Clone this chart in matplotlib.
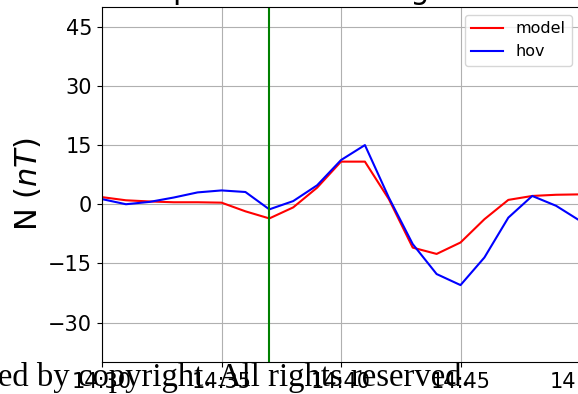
import pandas as pd
import matplotlib
matplotlib.use("Agg")
import matplotlib.pyplot as plt
import matplotlib.dates as mdates

# one-minute samples of the N component, 14:30 - 14:50
times = ["14:30", "14:31", "14:32", "14:33", "14:34", "14:35", "14:36",
         "14:37", "14:38", "14:39", "14:40", "14:41", "14:42", "14:43",
         "14:44", "14:45", "14:46", "14:47", "14:48", "14:49", "14:50"]
model = [1.8, 1.0, 0.7, 0.5, 0.5, 0.4, -1.8, -3.6, -0.8, 4.2, 10.8,
         10.8, 1.3, -11.0, -12.6, -9.7, -3.8, 1.1, 2.1, 2.4, 2.5]
hov = [1.3, 0.0, 0.6, 1.7, 3.0, 3.5, 3.1, -1.3, 0.8, 4.8, 11.2,
       15.0, 1.7, -10.1, -17.7, -20.5, -13.5, -3.4, 2.1, -0.4, -4.2]
event_time = "14:37"
yticks = [-30, -15, 0, 15, 30, 45]

day = "2015-03-17 "
t = pd.to_datetime([day + s for s in times])
t_event = pd.to_datetime(day + event_time)

fig = plt.figure(figsize=(5.78, 3.94), dpi=100)
ax = fig.add_axes([0.1765, 0.0812, 0.827, 0.901])

ax.plot(t, model, color="red", lw=1.5, label="model")
ax.plot(t, hov, color="blue", lw=1.5, label="hov")
ax.axvline(t_event, color="green", lw=1.5)

ax.set_xlim(t[0], t[-1])
ax.set_ylim(-40, 50)
ax.set_yticks(yticks)
ax.xaxis.set_major_locator(mdates.MinuteLocator(byminute=range(0, 60, 5)))
ax.xaxis.set_major_formatter(mdates.DateFormatter("%H:%M"))
ax.tick_params(labelsize=15)
ax.grid(True)

ax.set_ylabel("N $(nT)$", fontsize=22)
ax.set_title("Comparison of N magnetic field", fontsize=21.5)
ax.legend(loc="upper right", fontsize=11.5)

fig.text(470 / 578, 8 / 394, "Protected by copyright. All rights reserved.",
         family="Liberation Serif", fontsize=23.6, ha="right", va="baseline")

fig.savefig("out.png", dpi=100)
